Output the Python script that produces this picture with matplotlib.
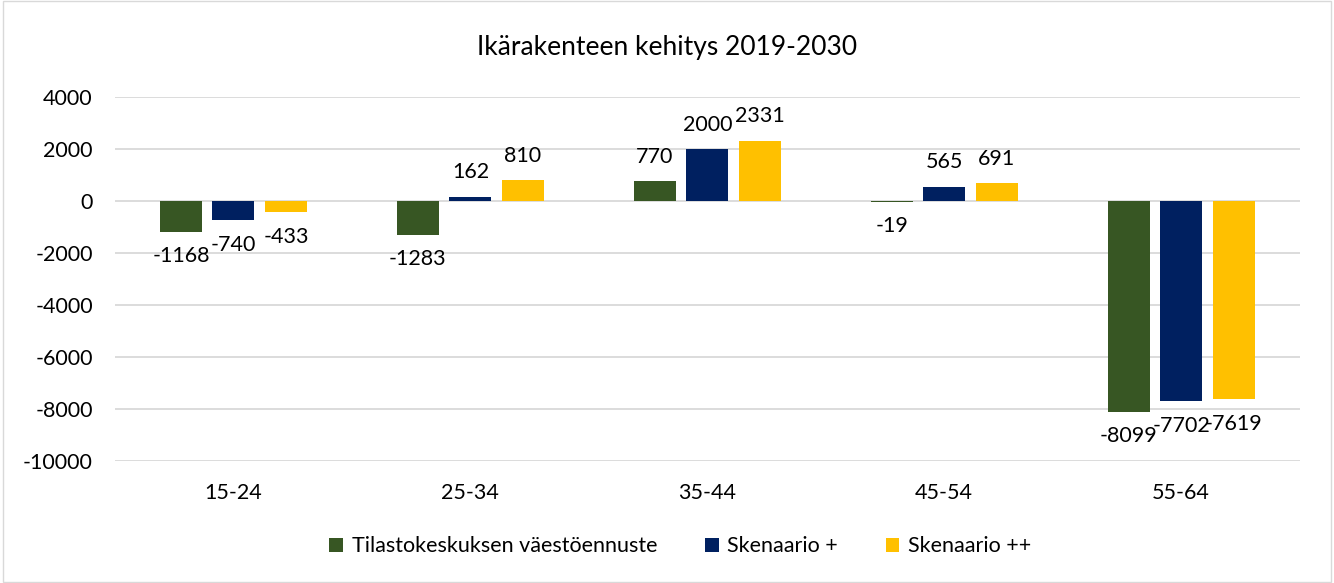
import numpy as np
import matplotlib.pyplot as plt
from matplotlib.patches import Rectangle

# ---------------- Data -----------------
categories = ["15-24", "25-34", "35-44", "45-54", "55-64"]
series_names = ["Tilastokeskuksen väestöennuste", "Skenaario +", "Skenaario ++"]
tilastokeskus = [-1168, -1283, 770, -19, -8099]
skenaario_plus = [-740, 162, 2000, 565, -7702]
skenaario_plusplus = [-433, 810, 2331, 691, -7619]
colors = ["#375623", "#002060", "#FFC000"]

plt.rcParams['font.family'] = ['Lato', 'DejaVu Sans']
plt.rcParams['axes.unicode_minus'] = False

# ---------------- Plot -----------------
fig = plt.figure(figsize=(13.34, 5.83), dpi=100)
ax = fig.add_axes([0.0862, 0.2093, 0.888, 0.6238])

x = np.arange(len(categories))
width = 0.177
step = 0.2215
for i, (vals, name, col) in enumerate(zip([tilastokeskus, skenaario_plus, skenaario_plusplus],
                                          series_names, colors)):
    bars = ax.bar(x + (i - 1) * step, vals, width, color=col, label=name, zorder=3)
    ax.bar_label(bars, labels=[str(v) for v in vals], padding=10.5, fontsize=15.5, color="#000000")

ax.set_xlim(-0.5, len(categories) - 0.5)
ax.set_ylim(-10000, 4000)
ax.set_yticks(np.arange(-10000, 4001, 2000))
ax.set_xticks(x)
ax.set_xticklabels(categories)
ax.tick_params(axis='both', length=0, labelsize=15.5, colors="#000000")
ax.tick_params(axis='x', pad=16)
ax.tick_params(axis='y', pad=16)
ax.yaxis.grid(True, color="#d9d9d9", linewidth=1.3, zorder=0)
for s in ax.spines.values():
    s.set_visible(False)

fig.suptitle("Ikärakenteen kehitys 2019-2030", y=0.94, fontsize=19)
fig.legend(loc='center', bbox_to_anchor=(0.51, 0.063), ncol=3, frameon=False,
           fontsize=15.5, handlelength=0.65, handleheight=0.65, handletextpad=0.4,
           columnspacing=2.2)

fig.patches.append(Rectangle((0.002, 0.002), 0.996, 0.996, transform=fig.transFigure,
                             fill=False, edgecolor="#d9d9d9", linewidth=1))

fig.savefig("out.png", dpi=100)
